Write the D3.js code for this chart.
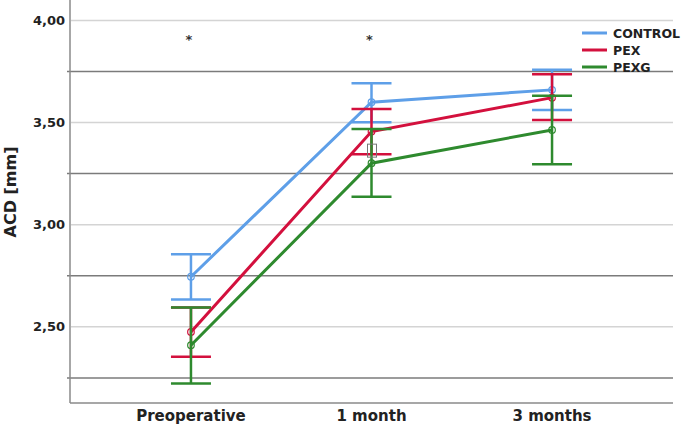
<!DOCTYPE html>
<html><head><meta charset="utf-8">
<script src="https://cdn.jsdelivr.net/npm/d3@7"></script>
<style>body{margin:0;background:#fff}svg{display:block}</style>
</head><body>
<svg id="c" width="685" height="432"></svg>
<script>
const categories = ["Preoperative", "1 month", "3 months"];
const seriesNames = ["CONTROL", "PEX", "PEXG"];
const controlMean = [2.745, 3.600, 3.660];
const controlLow  = [2.634, 3.502, 3.562];
const controlHigh = [2.855, 3.693, 3.758];
const pexMean = [2.475, 3.456, 3.622];
const pexLow  = [2.353, 3.345, 3.513];
const pexHigh = [2.595, 3.566, 3.737];
const pexgMean = [2.410, 3.301, 3.464];
const pexgLow  = [2.222, 3.137, 3.296];
const pexgHigh = [2.595, 3.469, 3.631];
const yTicks = [2.50, 3.00, 3.50, 4.00];
const yMinor = [2.25, 2.75, 3.25, 3.75];
const starCats = ["Preoperative", "1 month"];

const colors = {"CONTROL": "#5e9fe8", "PEX": "#d3103d", "PEXG": "#2e8a2e"};
const series = [
  {name: "CONTROL", mean: controlMean, low: controlLow, high: controlHigh},
  {name: "PEX", mean: pexMean, low: pexLow, high: pexHigh},
  {name: "PEXG", mean: pexgMean, low: pexgLow, high: pexgHigh}
];

const svg = d3.select("#c");
const pL = 70, pR = 673, pT = 0, pB = 403;
const x = d3.scalePoint().domain(categories).range([pL, pR]).padding(0.67);
const y = d3.scaleLinear().domain([2.127, 4.10]).range([pB, pT]);
const font = "'DejaVu Sans', sans-serif";

// light gridlines
svg.append("g").selectAll("line").data(yTicks).join("line")
  .attr("x1", pL + 1).attr("x2", pR)
  .attr("y1", d => y(d)).attr("y2", d => y(d))
  .attr("stroke", "#d4d4d4").attr("stroke-width", 1.5);
// dark reference lines
svg.append("g").selectAll("line").data(yMinor).join("line")
  .attr("x1", pL - 3).attr("x2", pR)
  .attr("y1", d => y(d)).attr("y2", d => y(d))
  .attr("stroke", "#7b7b7b").attr("stroke-width", 1.5);

// axes lines
svg.append("line").attr("x1", pL).attr("x2", pL).attr("y1", pT).attr("y2", pB)
  .attr("stroke", "#8a8a8a").attr("stroke-width", 1.5);
svg.append("line").attr("x1", pL).attr("x2", pR).attr("y1", pB).attr("y2", pB)
  .attr("stroke", "#8a8a8a").attr("stroke-width", 1.5);

// y tick labels
svg.append("g").selectAll("text").data(yTicks).join("text")
  .attr("x", 65).attr("y", d => y(d)).attr("dy", "0.36em")
  .attr("text-anchor", "end").attr("font-family", font).attr("font-weight", "bold")
  .attr("font-size", 13).attr("fill", "#222")
  .text(d => d3.format(".2f")(d).replace(".", ","));

// x labels
svg.append("g").selectAll("text").data(categories).join("text")
  .attr("x", d => x(d)).attr("y", 421)
  .attr("text-anchor", "middle").attr("font-family", font).attr("font-weight", "bold")
  .attr("font-size", 15).attr("fill", "#222").text(d => d);

// y title
svg.append("text").attr("transform", "translate(16,192) rotate(-90)")
  .attr("text-anchor", "middle").attr("font-family", font).attr("font-weight", "bold")
  .attr("font-size", 16).attr("fill", "#222").text("ACD [mm]");

// series
const capW = 20;
series.forEach(s => {
  const g = svg.append("g");
  const c = colors[s.name];
  const pts = categories.map((cat, i) => ({cat, m: s.mean[i], lo: s.low[i], hi: s.high[i]}));
  g.selectAll("line.v").data(pts).join("line").attr("class", "v")
    .attr("x1", d => x(d.cat)).attr("x2", d => x(d.cat))
    .attr("y1", d => y(d.lo)).attr("y2", d => y(d.hi))
    .attr("stroke", c).attr("stroke-width", 2.5);
  ["lo", "hi"].forEach(k => {
    g.selectAll("line.c" + k).data(pts).join("line").attr("class", "c" + k)
      .attr("x1", d => x(d.cat) - capW).attr("x2", d => x(d.cat) + capW)
      .attr("y1", d => y(d[k])).attr("y2", d => y(d[k]))
      .attr("stroke", c).attr("stroke-width", 2.5);
  });
  g.append("path").datum(pts)
    .attr("d", d3.line().x(d => x(d.cat)).y(d => y(d.m)))
    .attr("fill", "none").attr("stroke", c).attr("stroke-width", 3);
  g.selectAll("circle").data(pts).join("circle")
    .attr("cx", d => x(d.cat)).attr("cy", d => y(d.m)).attr("r", 3.3)
    .attr("fill", "none").attr("stroke", c).attr("stroke-width", 1.2);
});

// small label box marker near 1 month
svg.append("rect").attr("x", x("1 month") - 4).attr("y", y(3.36) - 7)
  .attr("width", 9).attr("height", 13)
  .attr("fill", "none").attr("stroke", "#777").attr("stroke-width", 1);

// asterisks
svg.append("g").selectAll("text").data(starCats).join("text")
  .attr("x", d => x(d) - 2).attr("y", 44).attr("text-anchor", "middle")
  .attr("font-family", font).attr("font-weight", "bold").attr("font-size", 13)
  .attr("fill", "#333").text("*");

// legend
const lg = svg.append("g");
seriesNames.forEach((n, i) => {
  const ly = 33 + i * 17;
  lg.append("line").attr("x1", 582).attr("x2", 607).attr("y1", ly).attr("y2", ly)
    .attr("stroke", colors[n]).attr("stroke-width", 3);
  lg.append("text").attr("x", 613).attr("y", ly).attr("dy", "0.36em")
    .attr("font-family", font).attr("font-weight", "bold").attr("font-size", 12.5)
    .attr("fill", "#222").text(n);
});
</script>
</body></html>
